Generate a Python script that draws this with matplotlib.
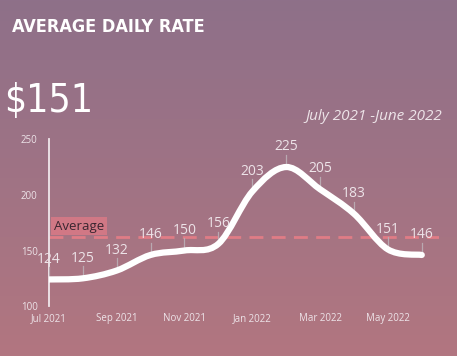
#!/usr/bin/env python3

import matplotlib
matplotlib.use("Agg")
import matplotlib.pyplot as plt
import numpy as np
from matplotlib.path import Path
from matplotlib.patches import PathPatch
from matplotlib import font_manager

MONTHS = ["Jul 2021", "Aug 2021", "Sep 2021", "Oct 2021", "Nov 2021", "Dec 2021",
          "Jan 2022", "Feb 2022", "Mar 2022", "Apr 2022", "May 2022", "Jun 2022"]
RATES = [124, 125, 132, 146, 150, 156, 203, 225, 205, 183, 151, 146]
AVERAGE = 162
Y_TICKS = [100, 150, 200, 250]
X_TICK_LABELS = ["Jul 2021", "Sep 2021", "Nov 2021", "Jan 2022", "Mar 2022", "May 2022"]

TITLE = "AVERAGE DAILY RATE"
HEADLINE = "$151"
PERIOD = "July 2021 -June 2022"

TOP_COLOR = np.array([142, 112, 137]) / 255
BOTTOM_COLOR = np.array([178, 118, 128]) / 255
TEXT_LIGHT = "#EDE3E8"
AVG_COLOR = "#E07C86"

plt.rcParams["font.family"] = ["Open Sans", "DejaVu Sans"]

names = sorted({f.name for f in font_manager.fontManager.ttflist})
print(names)
print([(f.name, f.stretch, f.fname) for f in font_manager.fontManager.ttflist if "Condensed" in f.fname or "Narrow" in f.fname])


def smooth_path(xs, ys):
    # catmull-rom style bezier so the line is drawn smooth through every point
    verts = [(xs[0], ys[0])]
    codes = [Path.MOVETO]
    n = len(xs)
    for i in range(n - 1):
        x0, y0 = (xs[i - 1], ys[i - 1]) if i > 0 else (xs[i], ys[i])
        x1, y1 = xs[i], ys[i]
        x2, y2 = xs[i + 1], ys[i + 1]
        x3, y3 = (xs[i + 2], ys[i + 2]) if i + 2 < n else (x2, y2)
        c1 = (x1 + (x2 - x0) / 6, y1 + (y2 - y0) / 6)
        c2 = (x2 - (x3 - x1) / 6, y2 - (y3 - y1) / 6)
        verts += [c1, c2, (x2, y2)]
        codes += [Path.CURVE4] * 3
    return Path(verts, codes)


fig = plt.figure(figsize=(4.57, 3.56), dpi=100)

bg = fig.add_axes([0, 0, 1, 1])
grad = np.linspace(0, 1, 256)[:, None, None]
img = TOP_COLOR * (1 - grad) + BOTTOM_COLOR * grad
bg.imshow(img, aspect="auto", extent=[0, 1, 0, 1])
bg.set_axis_off()

fig.text(0.026, 0.925, TITLE, color="white", fontsize=13, fontweight="bold",
         family="DejaVu Sans", fontstretch="condensed", va="center")
fig.text(0.010, 0.715, HEADLINE, color="white", fontsize=28,
         family="DejaVu Sans", fontstretch="condensed", va="center")
fig.text(0.967, 0.672, PERIOD, color=TEXT_LIGHT, fontsize=11, style="italic",
         ha="right", va="center")

ax = fig.add_axes([0.107, 0.140, 0.853, 0.469])
ax.patch.set_alpha(0)
x = np.arange(len(RATES))

ax.axhline(AVERAGE, color=AVG_COLOR, lw=2, ls=(0, (5, 3)), zorder=2)
ax.text(0.15, AVERAGE + 4, "Average", fontsize=9.5, color="#3a2630", va="bottom", ha="left",
        bbox=dict(boxstyle="square,pad=0.2", fc="#D97A86", ec="none", alpha=0.85), zorder=3)

ax.add_patch(PathPatch(smooth_path(x, RATES), fc="none", ec="white", lw=4.5,
                       capstyle="round", zorder=4))

for xi, yi in zip(x, RATES):
    ax.plot([xi, xi], [yi, yi + 11], color="#B9A9B1", lw=0.9, zorder=3)
    ax.text(xi, yi + 11.5, str(yi), fontsize=10, color=TEXT_LIGHT, ha="center",
            va="bottom", zorder=5)

ax.set_xlim(0, 11.5)
ax.set_ylim(100, 250)
ax.set_yticks(Y_TICKS)
ax.set_xticks(x[::2])
ax.set_xticklabels(X_TICK_LABELS)
ax.tick_params(length=0, labelsize=7, labelcolor=TEXT_LIGHT)
ax.tick_params(axis="y", pad=8)
ax.tick_params(axis="x", pad=5)
for side in ["top", "right", "bottom"]:
    ax.spines[side].set_visible(False)
ax.spines["left"].set_color("#F0E8EC")
ax.spines["left"].set_linewidth(1.3)

fig.savefig("out.png", dpi=100)
